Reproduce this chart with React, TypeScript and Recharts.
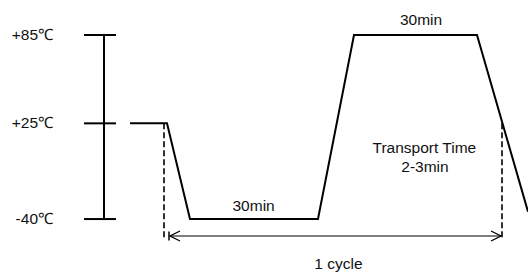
import { LineChart, Line, XAxis, YAxis, ReferenceLine, ReferenceDot } from "recharts";

// schematic time units (x) and chamber temperature in °C (y)
const profileTime = [6.5, 15.75, 21.5, 53.5, 62.5, 93.25, 106];
const profileTemp = [25, 25, -40, -40, 85, 85, -35];

const tempTicks = [-40, 25, 85];

// dashed markers for the cycle start/end
const cycleStart = 15;
const cycleEnd = 99.5;
const dashTop = 25;
const dashBottom = -53;
const arrowTemp = -51.5;

const notes = [
  { t: 79.25, temp: 95.2, text: "30min" },
  { t: 37.4, temp: -30.5, text: "30min" },
  { t: 80.1, temp: 8.3, text: "Transport Time" },
  { t: 80.25, temp: -4, text: "2-3min" },
  { t: 58.6, temp: -70.5, text: "1 cycle" },
];

const data = profileTime.map((t, i) => ({ t, temp: profileTemp[i] }));

const font = "'Liberation Sans', Arial, sans-serif";

function TempTick(props: any) {
  const { y, payload } = props;
  const v = payload.value;
  const label = (v > 0 ? "+" : "") + v + "℃";
  return (
    <g>
      <line x1={84} x2={116} y1={y} y2={y} stroke="#000" strokeWidth={2} />
      <text x={53} y={y} dy={5} textAnchor="end" fontSize={15.5} fontFamily={font} fill="#111">
        {label}
      </text>
    </g>
  );
}

export default function App() {
  return (
    <div style={{ position: "absolute", left: 0, top: 0, background: "#fff" }}>
      <LineChart width={528} height={275} data={data} margin={{ top: 35, right: 0, bottom: 0, left: 0 }}>
        <defs>
          <marker id="arrowHead" markerWidth="12" markerHeight="12" refX="11" refY="6" orient="auto-start-reverse" markerUnits="userSpaceOnUse">
            <path d="M1,1 L11,6 L1,11" fill="none" stroke="#000" strokeWidth={1.3} />
          </marker>
        </defs>
        <XAxis type="number" dataKey="t" domain={[0, 106]} hide />
        <YAxis
          type="number"
          domain={[-78, 85]}
          ticks={tempTicks}
          width={104}
          axisLine={false}
          tickLine={false}
          tick={<TempTick />}
          interval={0}
        />
        <ReferenceLine segment={[{ x: 0, y: -40 }, { x: 0, y: 85 }]} stroke="#000" strokeWidth={2} />
        <ReferenceLine
          segment={[{ x: cycleStart, y: dashTop }, { x: cycleStart, y: dashBottom }]}
          stroke="#000"
          strokeWidth={1.6}
          strokeDasharray="6 3"
        />
        <ReferenceLine
          segment={[{ x: cycleEnd, y: dashTop }, { x: cycleEnd, y: dashBottom }]}
          stroke="#000"
          strokeWidth={1.6}
          strokeDasharray="6 3"
        />
        <ReferenceLine
          segment={[{ x: cycleStart + 1.25, y: arrowTemp + 3 }, { x: cycleStart + 1.25, y: arrowTemp - 3 }]}
          stroke="#000"
          strokeWidth={1.5}
        />
        <ReferenceLine
          segment={[{ x: cycleStart + 1.5, y: arrowTemp }, { x: cycleEnd - 0.25, y: arrowTemp }]}
          stroke="#000"
          strokeWidth={1.2}
          markerStart="url(#arrowHead)"
          markerEnd="url(#arrowHead)"
        />
        {notes.map((n, i) => (
          <ReferenceDot
            key={i}
            x={n.t}
            y={n.temp}
            r={0}
            fill="none"
            stroke="none"
            ifOverflow="visible"
            label={{ value: n.text, position: "center", fontSize: 15.5, fontFamily: font, fill: "#111" }}
          />
        ))}
        <Line
          dataKey="temp"
          type="linear"
          stroke="#000"
          strokeWidth={2}
          dot={false}
          isAnimationActive={false}
        />
      </LineChart>
    </div>
  );
}
